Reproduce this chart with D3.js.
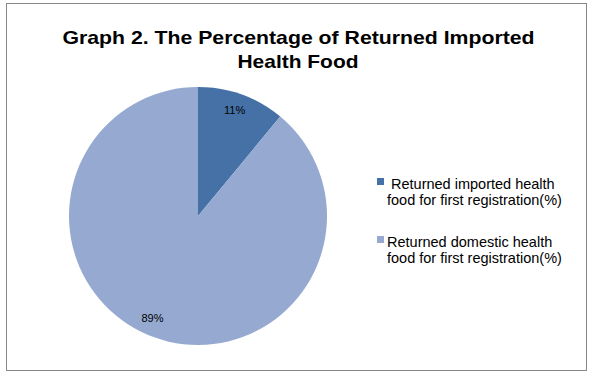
<!DOCTYPE html>
<html><head><meta charset="utf-8">
<script src="https://cdn.jsdelivr.net/npm/d3@7"></script>
<style>body{margin:0;background:#fff}svg{display:block}</style>
</head><body>
<svg id="c" width="597" height="378"></svg>
<script>
const categories = ["Returned imported health food for first registration(%)", "Returned domestic health food for first registration(%)"];
const legendLines = [[" Returned imported health", "food for first registration(%)"], ["Returned domestic health", "food for first registration(%)"]];
const values = [11, 89];
const labels = ["11%", "89%"];
const colors = ["#4671A6", "#96AAD1"];

const FONT = "Arial, 'Liberation Sans', sans-serif";
const svg = d3.select("#c");
svg.append("rect").attr("x", 6.5).attr("y", 3.5).attr("width", 580).attr("height", 367)
  .attr("fill", "#fff").attr("stroke", "#878787").attr("stroke-width", 1);

const title = svg.append("text").attr("text-anchor", "middle")
  .attr("font-family", FONT).attr("font-weight", "bold")
  .attr("font-size", 19).attr("fill", "#000");
title.append("tspan").attr("x", 298.5).attr("y", 44)
  .attr("textLength", 472).attr("lengthAdjust", "spacingAndGlyphs")
  .text("Graph 2. The Percentage of Returned Imported");
title.append("tspan").attr("x", 298).attr("y", 68)
  .attr("textLength", 121).attr("lengthAdjust", "spacingAndGlyphs")
  .text("Health Food");

const cx = 198, cy = 216, r = 129;
const pie = d3.pie().sort(null).value(d => d);
const arcs = pie(values);
const arc = d3.arc().innerRadius(0).outerRadius(r);
const g = svg.append("g").attr("transform", `translate(${cx},${cy})`);
g.selectAll("path").data(arcs).join("path").attr("d", arc).attr("fill", (d, i) => colors[i]);

const labelArc = d3.arc().innerRadius(r * 0.86).outerRadius(r * 0.86);
g.selectAll("text").data(arcs).join("text")
  .attr("transform", (d, i) => {
    const c = labelArc.centroid(d);
    const nudge = i === 1 ? -8 : -1;
    return `translate(${c[0] + nudge},${c[1] - (i === 1 ? 2 : 1)})`;
  })
  .attr("text-anchor", "middle").attr("dy", "0.35em")
  .attr("font-family", FONT).attr("font-size", 11)
  .attr("fill", "#000").text((d, i) => labels[i]);

const lg = svg.append("g");
const ly = [178, 236];
categories.forEach((c, i) => {
  lg.append("rect").attr("x", 377).attr("y", ly[i]).attr("width", 7).attr("height", 7).attr("fill", colors[i]);
  const t = lg.append("text").attr("font-family", FONT)
    .attr("font-size", 14.5).attr("fill", "#000");
  legendLines[i].forEach((ln, j) => {
    t.append("tspan").attr("x", 387).attr("y", ly[i] + 11 + j * 15.5)
      .style("white-space", "pre").text(ln);
  });
});
</script>
</body></html>
